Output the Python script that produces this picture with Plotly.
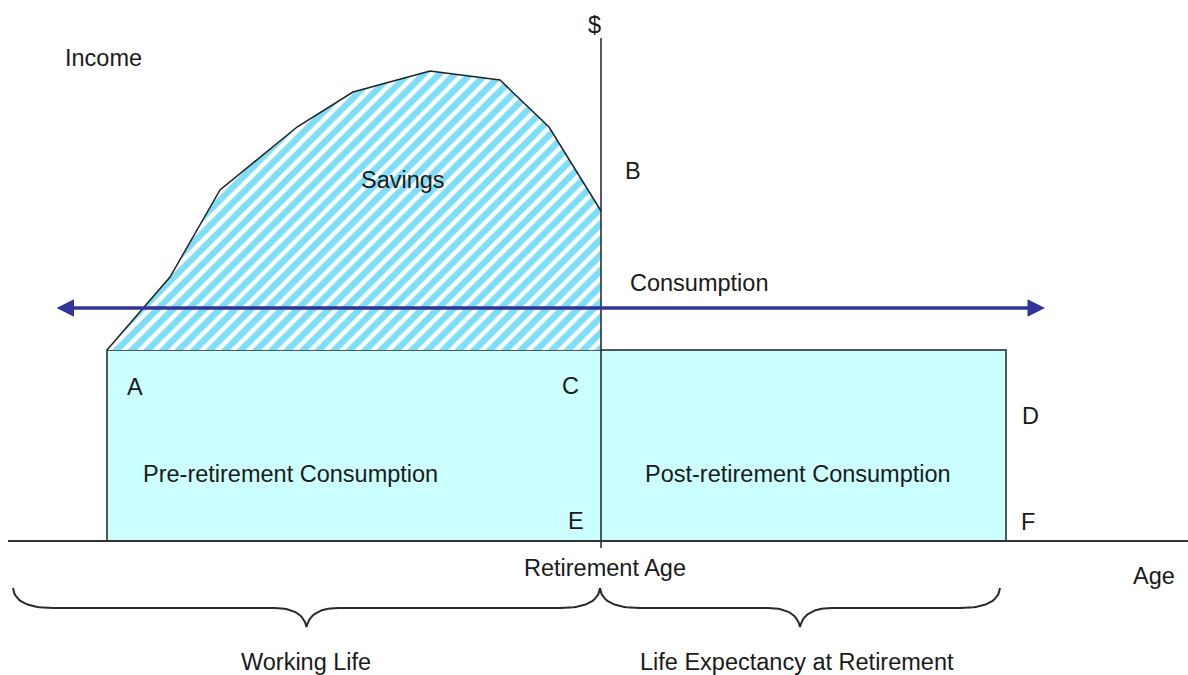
import plotly.graph_objects as go

# ---- data (diagram units: age along x, dollars along y; baseline = 0) ----
income_age = [107, 170, 220, 297, 353, 430, 500, 549, 601]
income_value = [191, 264, 351, 414, 449, 470, 461, 414, 330]
consumption_level = 191
arrow_level = 233
arrow_span = [55, 1045]
work_start_age = 107
retirement_age = 601
life_end_age = 1006
axis_top = 503
baseline_span = [8, 1188]
brace_spans = [[13, 600], [600, 1000]]

label_texts = ["Income", "$", "Savings", "B", "Consumption", "A", "C", "D",
               "Pre-retirement Consumption", "Post-retirement Consumption",
               "E", "F", "Retirement Age", "Age", "Working Life",
               "Life Expectancy at Retirement"]
label_x = [103, 594, 403, 633, 699, 135, 570, 1030, 290, 798, 576, 1028, 605, 1154, 306, 797]
label_y = [483, 516, 361, 370, 258, 154, 155, 125, 67, 67, 20, 19, -27, -35, -121, -121]

FONT = "Liberation Sans, Arial, sans-serif"
TXT = "#1a1a1a"

fig = go.Figure()

# consumption rectangle
fig.add_trace(go.Scatter(
    x=[work_start_age, life_end_age, life_end_age, work_start_age, work_start_age],
    y=[0, 0, consumption_level, consumption_level, 0],
    mode="lines", fill="toself", fillcolor="#CCFFFF",
    line=dict(color="#222222", width=1.5), hoverinfo="skip", showlegend=False))

# hatched savings area
fig.add_trace(go.Scatter(
    x=income_age + [retirement_age, work_start_age],
    y=income_value + [consumption_level, consumption_level],
    mode="lines", fill="toself",
    fillpattern=dict(shape="/", fgcolor="#00BDF0", bgcolor="white", size=11, solidity=0.6),
    line=dict(width=0), hoverinfo="skip", showlegend=False))

# income curve
fig.add_trace(go.Scatter(
    x=income_age, y=income_value, mode="lines",
    line=dict(color="#222222", width=1.5), hoverinfo="skip", showlegend=False))

# vertical $ axis
fig.add_trace(go.Scatter(
    x=[retirement_age, retirement_age], y=[axis_top, -7], mode="lines",
    line=dict(color="#222222", width=1.5), hoverinfo="skip", showlegend=False))

# age baseline
fig.add_trace(go.Scatter(
    x=baseline_span, y=[0, 0], mode="lines",
    line=dict(color="#333333", width=2), hoverinfo="skip", showlegend=False))


def quad(p0, c, p1, n=20):
    pts = []
    for i in range(n + 1):
        t = i / n
        x = (1 - t) ** 2 * p0[0] + 2 * (1 - t) * t * c[0] + t ** 2 * p1[0]
        y = (1 - t) ** 2 * p0[1] + 2 * (1 - t) * t * c[1] + t ** 2 * p1[1]
        pts.append((x, y))
    return pts


def brace(x0, x1, ytop=-47, ymid=-67, ytip=-86, rc=40, rt=32):
    xc = (x0 + x1) / 2
    pts = []
    pts += quad((x0, ytop), (x0 + 2, ymid), (x0 + rc, ymid))
    pts += quad((xc - rt, ymid), (xc - 4, ymid), (xc, ytip))
    pts += quad((xc, ytip), (xc + 4, ymid), (xc + rt, ymid))
    pts += quad((x1 - rc, ymid), (x1 - 2, ymid), (x1, ytop))
    return [p[0] for p in pts], [p[1] for p in pts]


for s in brace_spans:
    bx, by = brace(s[0], s[1])
    fig.add_trace(go.Scatter(x=bx, y=by, mode="lines",
                             line=dict(color="#2a2a2a", width=2),
                             hoverinfo="skip", showlegend=False))

annotations = []
# consumption double arrow
annotations.append(dict(
    x=arrow_span[1], y=arrow_level, ax=arrow_span[0], ay=arrow_level,
    xref="x", yref="y", axref="x", ayref="y", text="", showarrow=True,
    arrowhead=2, arrowside="end+start", arrowwidth=3.5, arrowsize=1,
    arrowcolor="#333399"))

for t, x, y in zip(label_texts, label_x, label_y):
    annotations.append(dict(
        x=x, y=y, xref="x", yref="y", text=t, showarrow=False,
        xanchor="center", yanchor="middle",
        font=dict(family=FONT, size=23.5, color=TXT)))

fig.update_layout(
    width=1188, height=675,
    margin=dict(l=0, r=0, t=0, b=0),
    paper_bgcolor="white", plot_bgcolor="white",
    xaxis=dict(range=[0, 1188], visible=False, fixedrange=True),
    yaxis=dict(range=[-134, 541], visible=False, fixedrange=True),
    annotations=annotations,
    showlegend=False,
)

fig.write_html("out.html", config={"displayModeBar": False},
               post_script="document.body.style.margin='0';document.body.style.overflow='hidden';")
